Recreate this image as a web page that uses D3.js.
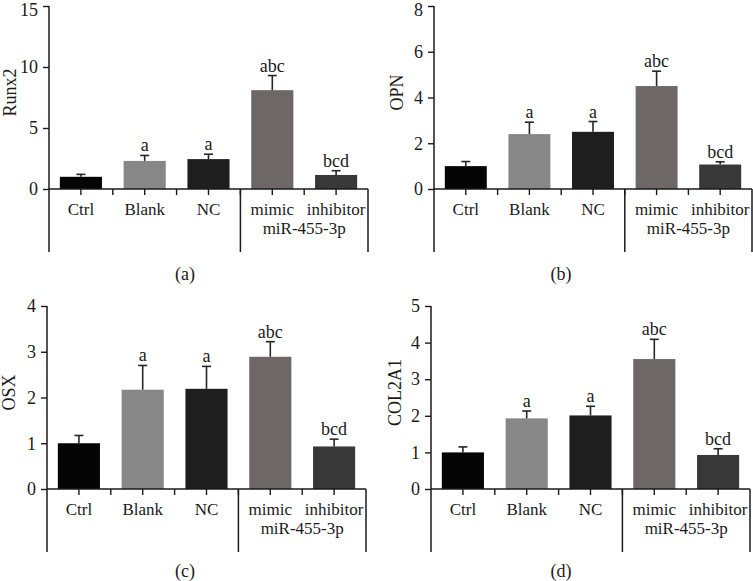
<!DOCTYPE html>
<html>
<head>
<meta charset="utf-8">
<script src="https://cdn.jsdelivr.net/npm/d3@7"></script>
<style>
  html, body { margin: 0; padding: 0; background: #fff; }
  svg { display: block; }
  text { font-family: "Liberation Serif", "Times New Roman", serif; fill: #1a1a1a; }
</style>
</head>
<body>
<svg id="chart" width="753" height="581"></svg>
<script>
// ---- data ----
const categories = ["Ctrl", "Blank", "NC", "mimic", "inhibitor"];
const groupLabel = "miR-455-3p";
const barColors = ["#050505", "#878787", "#1e1e1e", "#6d6768", "#383838"];

const runx2Values = [1.0, 2.3, 2.45, 8.1, 1.15];
const runx2Errors = [0.2, 0.45, 0.4, 1.2, 0.35];
const runx2Letters = ["", "a", "a", "abc", "bcd"];
const runx2Ticks = [0, 5, 10, 15];

const opnValues = [1.0, 2.4, 2.5, 4.5, 1.07];
const opnErrors = [0.2, 0.52, 0.45, 0.65, 0.12];
const opnLetters = ["", "a", "a", "abc", "bcd"];
const opnTicks = [0, 2, 4, 6, 8];

const osxValues = [1.0, 2.17, 2.19, 2.89, 0.93];
const osxErrors = [0.17, 0.53, 0.49, 0.33, 0.16];
const osxLetters = ["", "a", "a", "abc", "bcd"];
const osxTicks = [0, 1, 2, 3, 4];

const col2a1Values = [1.0, 1.93, 2.01, 3.55, 0.93];
const col2a1Errors = [0.15, 0.2, 0.25, 0.54, 0.17];
const col2a1Letters = ["", "a", "a", "abc", "bcd"];
const col2a1Ticks = [0, 1, 2, 3, 4, 5];

const panels = [
  { title: "Runx2",  tag: "(a)", values: runx2Values,  errors: runx2Errors,  letters: runx2Letters,  ticks: runx2Ticks,
    x0: 49,  x1: 368, yTop: 6,   yBase: 189, tagX: 185, tagY: 280, titleX: 16 },
  { title: "OPN",    tag: "(b)", values: opnValues,    errors: opnErrors,    letters: opnLetters,    ticks: opnTicks,
    x0: 434, x1: 752, yTop: 6,   yBase: 189, tagX: 561, tagY: 280, titleX: 403 },
  { title: "OSX",    tag: "(c)", values: osxValues,    errors: osxErrors,    letters: osxLetters,    ticks: osxTicks,
    x0: 47,  x1: 366, yTop: 306, yBase: 489, tagX: 185, tagY: 577, titleX: 15 },
  { title: "COL2A1", tag: "(d)", values: col2a1Values, errors: col2a1Errors, letters: col2a1Letters, ticks: col2a1Ticks,
    x0: 431, x1: 750, yTop: 306, yBase: 489, tagX: 561, tagY: 577, titleX: 401 }
];

const svg = d3.select("#chart");
const lineColor = "#1a1a1a";
const FS = 18;
const FSX = 17;

panels.forEach(p => {
  const g = svg.append("g");
  const x = d3.scaleBand().domain(categories).range([p.x0, p.x1])
    .paddingInner(0.34).paddingOuter(0.17);
  const yMax = p.ticks[p.ticks.length - 1];
  const y = d3.scaleLinear().domain([0, yMax]).range([p.yBase, p.yTop]);
  const step = x.step();
  const bw = x.bandwidth();
  const data = categories.map((c, i) => ({ c, v: p.values[i], e: p.errors[i], l: p.letters[i], col: barColors[i] }));

  // bars
  g.selectAll("rect.bar").data(data).join("rect")
    .attr("class", "bar")
    .attr("x", d => x(d.c))
    .attr("width", bw)
    .attr("y", d => y(d.v))
    .attr("height", d => y(0) - y(d.v))
    .attr("fill", d => d.col);

  // error bars (upper only)
  const eb = g.selectAll("g.err").data(data).join("g").attr("class", "err");
  eb.append("line")
    .attr("x1", d => x(d.c) + bw / 2).attr("x2", d => x(d.c) + bw / 2)
    .attr("y1", d => y(d.v)).attr("y2", d => y(d.v + d.e))
    .attr("stroke", "#262626").attr("stroke-width", 1.6);
  eb.append("line")
    .attr("x1", d => x(d.c) + bw / 2 - 4.5).attr("x2", d => x(d.c) + bw / 2 + 4.5)
    .attr("y1", d => y(d.v + d.e)).attr("y2", d => y(d.v + d.e))
    .attr("stroke", "#262626").attr("stroke-width", 1.6);

  // significance letters
  g.selectAll("text.sig").data(data.filter(d => d.l)).join("text")
    .attr("class", "sig")
    .attr("x", d => x(d.c) + bw / 2)
    .attr("y", d => y(d.v + d.e) - 4)
    .attr("text-anchor", "middle")
    .attr("font-size", FS)
    .text(d => d.l);

  // y axis
  const yAxis = g.append("g").attr("transform", `translate(${p.x0},0)`)
    .call(d3.axisLeft(y).tickValues(p.ticks).tickFormat(d3.format("d"))
      .tickSize(6).tickPadding(5).tickSizeOuter(0));
  yAxis.select(".domain").remove();
  yAxis.selectAll(".tick line").attr("stroke", lineColor).attr("stroke-width", 1.4);
  yAxis.selectAll(".tick text").attr("font-size", FS).attr("fill", "#1a1a1a")
    .style("font-family", '"Liberation Serif", serif')
    .attr("dy", d => (d === yMax && p.yTop < 10) ? "0.5em" : "0.32em");
  // y axis line extended down into group bracket
  g.append("line")
    .attr("x1", p.x0).attr("x2", p.x0)
    .attr("y1", p.yTop).attr("y2", p.yBase + 63)
    .attr("stroke", lineColor).attr("stroke-width", 1.5);

  // x axis
  const xAxis = g.append("g").attr("transform", `translate(0,${p.yBase})`)
    .call(d3.axisBottom(x).tickSize(6).tickPadding(8).tickSizeOuter(0));
  xAxis.select(".domain").remove();
  xAxis.selectAll(".tick line").attr("stroke", lineColor).attr("stroke-width", 1.4);
  xAxis.selectAll(".tick text").attr("font-size", FSX).attr("fill", "#1a1a1a")
    .style("font-family", '"Liberation Serif", serif');
  g.append("line")
    .attr("x1", p.x0).attr("x2", p.x1)
    .attr("y1", p.yBase).attr("y2", p.yBase)
    .attr("stroke", lineColor).attr("stroke-width", 1.5);

  // boundary ticks between categories
  const bounds = categories.map(c => x(c) - (step - bw) / 2).slice(1);
  g.selectAll("line.bt").data(bounds).join("line")
    .attr("class", "bt")
    .attr("x1", d => d).attr("x2", d => d)
    .attr("y1", p.yBase).attr("y2", p.yBase + 6)
    .attr("stroke", lineColor).attr("stroke-width", 1.4);

  // group bracket lines (before mimic, and at end)
  const gStart = x("mimic") - (step - bw) / 2;
  [gStart, p.x1].forEach(xx => {
    g.append("line")
      .attr("x1", xx).attr("x2", xx)
      .attr("y1", p.yBase).attr("y2", p.yBase + 63)
      .attr("stroke", lineColor).attr("stroke-width", 1.5);
  });

  // group label
  g.append("text")
    .attr("x", (gStart + p.x1) / 2)
    .attr("y", p.yBase + 45)
    .attr("text-anchor", "middle")
    .attr("font-size", FSX)
    .text(groupLabel);

  // y title
  g.append("text")
    .attr("transform", `translate(${p.titleX},${(p.yTop + p.yBase) / 2 - 5}) rotate(-90)`)
    .attr("text-anchor", "middle")
    .attr("font-size", FS)
    .text(p.title);

  // panel tag
  g.append("text")
    .attr("x", p.tagX).attr("y", p.tagY)
    .attr("text-anchor", "middle")
    .attr("font-size", FS)
    .text(p.tag);
});
</script>
</body>
</html>
